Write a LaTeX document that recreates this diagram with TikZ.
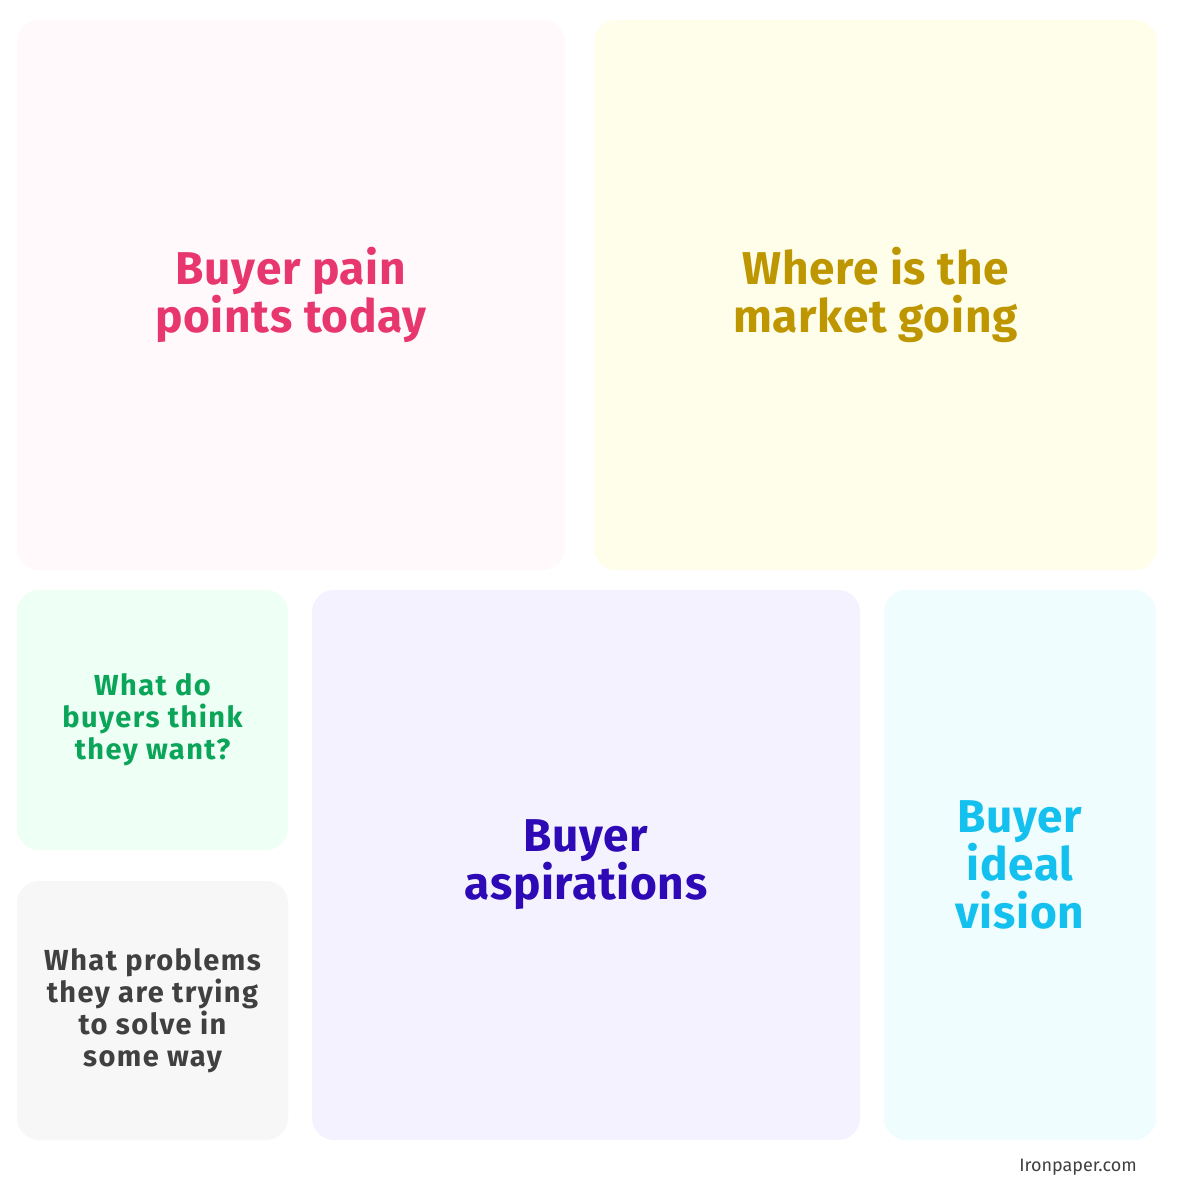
\documentclass[tikz,border=0pt]{standalone}
\usepackage{fontspec}
\setmainfont{Fira Sans}
\usepackage{tikz}

\definecolor{painfill}{HTML}{FFF9FB}
\definecolor{paintext}{HTML}{E8366E}
\definecolor{marketfill}{HTML}{FEFEEB}
\definecolor{markettext}{HTML}{BE9700}
\definecolor{thinkfill}{HTML}{EEFFF5}
\definecolor{thinktext}{HTML}{0AA558}
\definecolor{problemfill}{HTML}{F7F7F7}
\definecolor{problemtext}{HTML}{404040}
\definecolor{aspirefill}{HTML}{F4F2FF}
\definecolor{aspiretext}{HTML}{2D0AB5}
\definecolor{visionfill}{HTML}{EFFDFF}
\definecolor{visiontext}{HTML}{14C0EE}

\begin{document}
\begin{tikzpicture}[x=1pt, y=-1pt,
    card/.style={rounded corners=22pt, inner sep=0pt, align=center},
    big/.style={card, font=\fontsize{46}{48}\selectfont\bfseries\addfontfeature{LetterSpace=1.5}},
    small/.style={card, font=\fontsize{29}{32}\selectfont\bfseries\addfontfeature{LetterSpace=5}}]
    \useasboundingbox[fill=white] (0,0) rectangle (1186,1185);
    \node[big, fill=painfill, text=paintext, minimum width=548pt, minimum height=550pt] (pain) at (291,295)
        {Buyer pain\\points today};
    \node[big, fill=marketfill, text=markettext, minimum width=563pt, minimum height=550pt] (market) at (875.5,295)
        {Where is the\\market going};
    \node[small, fill=thinkfill, text=thinktext, minimum width=271pt, minimum height=260pt] (think) at (152.5,720)
        {What do\\buyers think\\they want?};
    \node[small, fill=problemfill, text=problemtext, minimum width=271pt, minimum height=259pt] (problems) at (152.5,1010.5)
        {What problems\\they are trying\\to solve in\\some way};
    \node[big, fill=aspirefill, text=aspiretext, minimum width=548pt, minimum height=550pt] (aspire) at (586,865)
        {Buyer\\aspirations};
    \node[big, fill=visionfill, text=visiontext, minimum width=272pt, minimum height=550pt] (vision) at (1020,865)
        {Buyer\\ideal\\vision};
    \node[font=\fontsize{18}{20}\selectfont, text=problemtext] (site) at (1078,1167) {Ironpaper.com};
\end{tikzpicture}
\end{document}
